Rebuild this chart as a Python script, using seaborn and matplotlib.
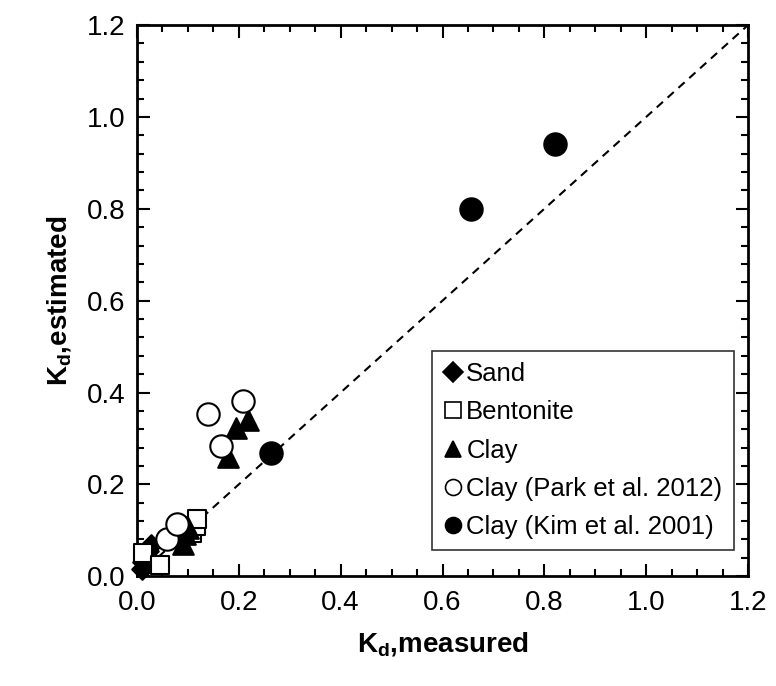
import matplotlib
matplotlib.use("Agg")
import matplotlib.pyplot as plt
from matplotlib.lines import Line2D
from matplotlib.ticker import MultipleLocator
import seaborn as sns
import pandas as pd

sns.set_theme(style="white")
plt.rcParams['font.family'] = ['Liberation Sans', 'DejaVu Sans']
plt.rcParams['mathtext.fontset'] = 'custom'
plt.rcParams['mathtext.bf'] = 'Liberation Sans:bold'
plt.rcParams['mathtext.rm'] = 'Liberation Sans'
for k in ['text.color', 'axes.labelcolor', 'xtick.color', 'ytick.color', 'axes.edgecolor']:
    plt.rcParams[k] = 'black'

# Data
sand_x = [0.010, 0.012, 0.018, 0.022, 0.028]
sand_y = [0.015, 0.030, 0.045, 0.055, 0.068]
bent_x = [0.012, 0.045, 0.108, 0.115, 0.118]
bent_y = [0.050, 0.025, 0.095, 0.110, 0.125]
clay_x = [0.090, 0.095, 0.100, 0.179, 0.194, 0.219]
clay_y = [0.070, 0.093, 0.105, 0.259, 0.322, 0.341]
park_x = [0.058, 0.078, 0.140, 0.166, 0.208]
park_y = [0.082, 0.113, 0.354, 0.283, 0.382]
kim_x = [0.263, 0.655, 0.820]
kim_y = [0.269, 0.800, 0.940]

labels = ["Sand", "Bentonite", "Clay", "Clay (Park et al. 2012)", "Clay (Kim et al. 2001)"]

fig = plt.figure(figsize=(7.76, 6.86), dpi=100)
ax = fig.add_axes([0.1765, 0.160, 0.7875, 0.8035])

groups = [
    (sand_x, sand_y, labels[0], "D", "black", 110),
    (bent_x, bent_y, labels[1], "s", "white", 180),
    (clay_x, clay_y, labels[2], "^", "black", 220),
    (park_x, park_y, labels[3], "o", "white", 260),
    (kim_x, kim_y, labels[4], "o", "black", 260),
]

# 1:1 line
ax.plot([0, 1.2], [0, 1.2], ls=(0, (4, 3)), color="black", lw=1.5, zorder=1)

handles = []
for xs, ys, lab, m, fc, s in groups:
    df = pd.DataFrame({"x": xs, "y": ys})
    sns.scatterplot(data=df, x="x", y="y", ax=ax, marker=m, s=s,
                    facecolor=fc, edgecolor="black", linewidth=1.5, zorder=3,
                    clip_on=False)
    handles.append(Line2D([], [], marker=m, ls="none", markerfacecolor=fc,
                          markeredgecolor="black", markeredgewidth=1.2,
                          markersize=11.5 if m != "D" else 10, label=lab))

ax.set_xlim(0, 1.2)
ax.set_ylim(0, 1.2)
ax.xaxis.set_major_locator(MultipleLocator(0.2))
ax.xaxis.set_minor_locator(MultipleLocator(0.05))
ax.yaxis.set_major_locator(MultipleLocator(0.2))
ax.yaxis.set_minor_locator(MultipleLocator(0.04))
ax.xaxis.set_major_formatter(plt.FuncFormatter(lambda v, p: f"{v:.1f}"))
ax.yaxis.set_major_formatter(plt.FuncFormatter(lambda v, p: f"{v:.1f}"))
ax.tick_params(which="both", direction="in", top=True, right=True,
               bottom=True, left=True, color="black", width=1.5)
ax.tick_params(which="major", length=9, labelsize=20, labelcolor="black")
ax.tick_params(axis="x", which="major", pad=10)
ax.tick_params(axis="y", which="major", pad=8)
ax.tick_params(which="minor", length=5)
for sp in ax.spines.values():
    sp.set_color("black")
    sp.set_linewidth(2)

ax.set_xlabel(r"$\mathbf{K_d}$,measured", fontsize=20, fontweight="bold", labelpad=10)
ax.set_ylabel(r"$\mathbf{K_d}$,estimated", fontsize=20, fontweight="bold", labelpad=10)

leg = ax.legend(handles=handles, loc="lower right", bbox_to_anchor=(0.977, 0.047),
                fontsize=18.5, frameon=True, fancybox=False, edgecolor="black",
                handlelength=0.8, handletextpad=0.1, borderpad=0.45,
                labelspacing=0.55, borderaxespad=0)
leg.get_frame().set_linewidth(1.2)

fig.savefig("out.png", dpi=100)
